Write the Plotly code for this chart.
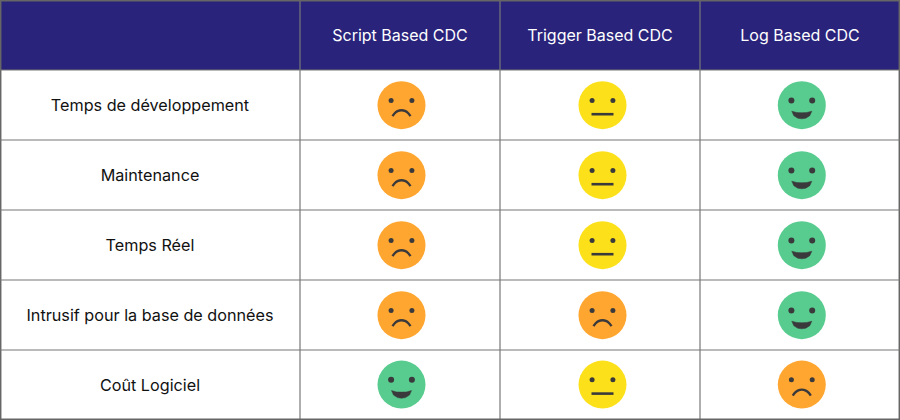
import plotly.graph_objects as go

# Data
columns = ["Script Based CDC", "Trigger Based CDC", "Log Based CDC"]
rows = ["Temps de développement", "Maintenance", "Temps Réel",
        "Intrusif pour la base de données", "Coût Logiciel"]
ratings = [
    ["sad", "neutral", "happy"],
    ["sad", "neutral", "happy"],
    ["sad", "neutral", "happy"],
    ["sad", "sad", "happy"],
    ["happy", "neutral", "sad"],
]

# Layout of the table (pixel-like axis units)
col_edges = [0, 300, 500, 700, 900]
row_edges = [0, 70, 140, 210, 280, 350, 420]
face_x = [401.5, 602.5, 801.8]
face_y = [105.2, 175.2, 245.2, 315.2, 384.6]
colors = {"sad": "#FFA630", "neutral": "#FCE11A", "happy": "#57CC8E"}
INK = "#3A3A3C"
FONT = "Inter"
TEXT_SHIFT = 2

fig = go.Figure()

# glyph templates (offsets from a face centre)
frown = [(-9, 11), (-7, 8.3), (-4, 6), (0, 5), (4, 6), (7, 8.3), (9, 11)]
smile = [(-10, 6), (-5, 7.3), (0, 7.5), (5, 7.3), (10, 6), (8, 10.5), (4, 13), (0, 13.6), (-4, 13), (-8, 10.5), (-10, 6)]

for kind in colors:
    cx, cy = [], []
    for r, row in enumerate(ratings):
        for c, val in enumerate(row):
            if val == kind:
                cx.append(face_x[c]); cy.append(face_y[r])
    # face discs
    fig.add_trace(go.Scatter(x=cx, y=cy, mode="markers", hoverinfo="skip",
                             marker=dict(size=48, color=colors[kind], line=dict(width=0))))
    # eyes
    ex = [x + d for x in cx for d in (-10.4, 10.4)]
    ey = [y - 4.8 for y in cy for _ in (0, 1)]
    fig.add_trace(go.Scatter(x=ex, y=ey, mode="markers", hoverinfo="skip",
                             marker=dict(size=5 if kind != "happy" else 6, color=INK, line=dict(width=0))))
    # mouths
    mx, my = [], []
    if kind == "neutral":
        for x, y in zip(cx, cy):
            mx += [x - 11, x + 11, None]; my += [y + 9, y + 9, None]
        fig.add_trace(go.Scatter(x=mx, y=my, mode="lines", hoverinfo="skip",
                                 line=dict(color=INK, width=2.6, shape="linear")))
    elif kind == "sad":
        for x, y in zip(cx, cy):
            mx += [x + a for a, _ in frown] + [None]
            my += [y + b for _, b in frown] + [None]
        fig.add_trace(go.Scatter(x=mx, y=my, mode="lines", hoverinfo="skip",
                                 line=dict(color=INK, width=2.4, shape="spline")))
    else:
        for x, y in zip(cx, cy):
            mx += [x + a for a, _ in smile] + [None]
            my += [y + b for _, b in smile] + [None]
        fig.add_trace(go.Scatter(x=mx, y=my, mode="lines", fill="toself", fillcolor=INK,
                                 hoverinfo="skip", line=dict(color=INK, width=0.5)))

# Row labels
row_centers = [(row_edges[i + 1] + row_edges[i + 2]) / 2 + TEXT_SHIFT for i in range(len(rows))]
fig.add_trace(go.Scatter(x=[150] * len(rows), y=row_centers, text=rows, mode="text",
                         hoverinfo="skip", textposition="middle center",
                         textfont=dict(family=FONT, size=16.2, color="#111111")))
# Column headers
col_centers = [(col_edges[i + 1] + col_edges[i + 2]) / 2 for i in range(len(columns))]
fig.add_trace(go.Scatter(x=col_centers, y=[35 + TEXT_SHIFT] * len(columns), text=columns, mode="text",
                         hoverinfo="skip", textposition="middle center",
                         textfont=dict(family=FONT, size=16, color="#FFFFFF")))

shapes = [dict(type="rect", x0=0, x1=900, y0=0, y1=70, fillcolor="#29237B",
               line=dict(width=0), layer="below")]
for x in col_edges:
    outer = x in (col_edges[0], col_edges[-1])
    xx = min(max(x, 0.7), 899.3)
    shapes.append(dict(type="line", x0=xx, x1=xx, y0=0, y1=420, layer="below",
                       line=dict(color="#666666" if outer else "#777777", width=1.5 if outer else 1.2)))
for y in row_edges:
    outer = y in (row_edges[0], row_edges[-1])
    yy = min(max(y, 0.7), 419.3)
    shapes.append(dict(type="line", x0=0, x1=900, y0=yy, y1=yy, layer="below",
                       line=dict(color="#666666" if outer else "#777777", width=1.5 if outer else 1.2)))

fig.update_layout(
    width=900, height=420, margin=dict(l=0, r=0, t=0, b=0), showlegend=False,
    paper_bgcolor="#FFFFFF", plot_bgcolor="#FFFFFF", shapes=shapes,
    xaxis=dict(range=[0, 900], visible=False, fixedrange=True),
    yaxis=dict(range=[420, 0], visible=False, fixedrange=True),
)
fig.write_html("out.html", config={"displayModeBar": False},
               post_script="document.body.style.margin='0';document.body.style.overflow='hidden';")
